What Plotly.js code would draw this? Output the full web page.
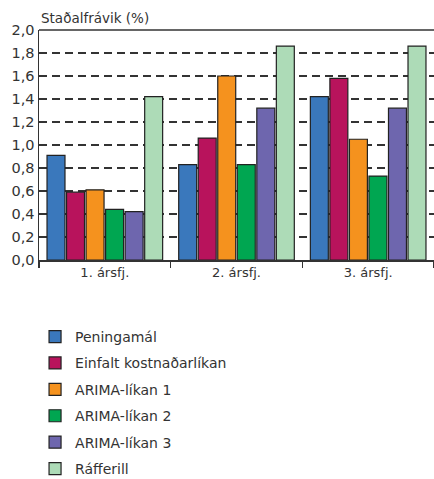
<!DOCTYPE html>
<html><head><meta charset="utf-8">
<script src="https://cdn.plot.ly/plotly-3.0.1.min.js"></script>
<style>html,body{margin:0;padding:0;background:#fff}#c{width:434px;height:479px}</style>
</head><body><div id="c"></div>
<script>
const categories = ["1. ársfj.", "2. ársfj.", "3. ársfj."];
const seriesNames = ["Peningamál", "Einfalt kostnaðarlíkan", "ARIMA-líkan 1", "ARIMA-líkan 2", "ARIMA-líkan 3", "Ráfferill"];
const peningamal = [0.91, 0.83, 1.42];
const einfalt = [0.59, 1.06, 1.58];
const arima1 = [0.61, 1.60, 1.05];
const arima2 = [0.44, 0.83, 0.73];
const arima3 = [0.42, 1.32, 1.32];
const rafferill = [1.42, 1.86, 1.86];
const colors = ["#3a78bc", "#b8135c", "#f5921e", "#00a651", "#6e66ae", "#addbb7"];
const values = [peningamal, einfalt, arima1, arima2, arima3, rafferill];

const font = "DejaVu Sans, sans-serif";
const traces = values.map((v, i) => ({
  type: "bar", x: categories, y: v, name: seriesNames[i],
  legendgroup: "g" + i,
  marker: {color: colors[i], line: {color: "#222", width: 1.2}},
  hoverinfo: "skip"
}));

const layout = {
  width: 434, height: 479,
  margin: {l: 39, r: 0, t: 30, b: 219},
  paper_bgcolor: "#fff", plot_bgcolor: "#fff",
  font: {family: font, color: "#333", size: 14},
  barmode: "group", bargap: 0.11, bargroupgap: 0.08,
  showlegend: true,
  legend: {x: -0.01, xref: "paper", xanchor: "left", y: 0.33, yref: "container", yanchor: "top", traceorder: "grouped",
    orientation: "v", tracegroupgap: 5.2, font: {size: 14, color: "#333", family: font}, itemwidth: 30,
    bgcolor: "rgba(0,0,0,0)"},
  xaxis: {type: "category", showline: true, linecolor: "#333", linewidth: 1.5, mirror: false,
    ticks: "outside", tickson: "boundaries", ticklen: 6, tickcolor: "#333", tickwidth: 1.5,
    showgrid: false, tickfont: {size: 13, color: "#333"}, fixedrange: true},
  yaxis: {range: [0, 2], dtick: 0.2, tickformat: ".1f", showline: true, linecolor: "#333", linewidth: 1.5,
    ticks: "", showgrid: true, gridcolor: "#333", gridwidth: 1.2, griddash: "8px,5px",
    zeroline: false, tickfont: {size: 14.5, color: "#333"}, fixedrange: true},
  separators: ", ",
  annotations: [{text: "Staðalfrávik (%)", xref: "paper", yref: "paper", x: 0, y: 1, xanchor: "left", yanchor: "bottom",
    yshift: 2, showarrow: false, font: {size: 13.5, color: "#333", family: font}}],
  shapes: [{type: "line", xref: "paper", yref: "paper", x0: 0, x1: 1, y0: 1, y1: 1, line: {color: "#333", width: 1.5}}]
};
Plotly.newPlot("c", traces, layout, {displayModeBar: false, staticPlot: true});
</script></body></html>
